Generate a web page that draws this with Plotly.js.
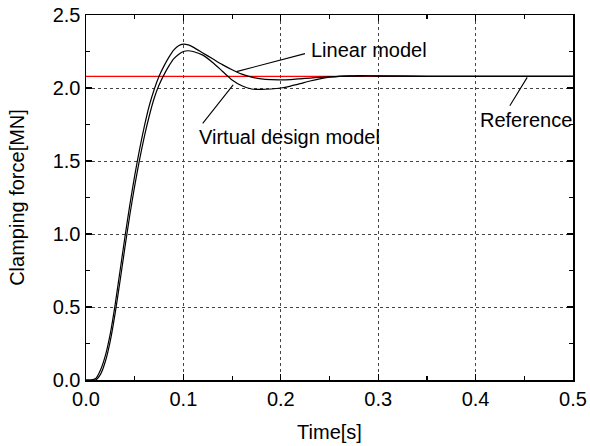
<!DOCTYPE html>
<html>
<head>
<meta charset="utf-8">
<script src="https://cdn.plot.ly/plotly-3.0.1.min.js"></script>
<style>html,body{margin:0;padding:0;background:#fff;}#chart{width:590px;height:446px;}</style>
</head>
<body>
<div id="chart"></div>
<script>
// Time axis (s)
var timeLinear = [0, 0.005, 0.010, 0.015, 0.020, 0.025, 0.030, 0.035, 0.040, 0.045, 0.050, 0.055, 0.060, 0.065, 0.070, 0.075, 0.080, 0.085, 0.090, 0.095, 0.100, 0.105, 0.110, 0.120, 0.130, 0.140, 0.150, 0.160, 0.170, 0.180, 0.190, 0.200, 0.210, 0.220, 0.230, 0.240, 0.250, 0.260, 0.280, 0.300, 0.350, 0.400, 0.450, 0.500];
var forceLinear = [0, 0, 0.01, 0.07, 0.17, 0.32, 0.52, 0.75, 0.98, 1.20, 1.40, 1.58, 1.74, 1.88, 1.99, 2.08, 2.15, 2.21, 2.26, 2.29, 2.30, 2.295, 2.28, 2.24, 2.20, 2.16, 2.125, 2.095, 2.075, 2.062, 2.057, 2.056, 2.058, 2.063, 2.068, 2.073, 2.077, 2.080, 2.082, 2.082, 2.080, 2.080, 2.080, 2.080];

var timeVirtual = [0, 0.005, 0.010, 0.015, 0.020, 0.025, 0.030, 0.035, 0.040, 0.045, 0.050, 0.055, 0.060, 0.065, 0.070, 0.075, 0.080, 0.085, 0.090, 0.095, 0.100, 0.105, 0.110, 0.120, 0.130, 0.140, 0.150, 0.160, 0.170, 0.180, 0.190, 0.200, 0.210, 0.220, 0.230, 0.240, 0.250, 0.260, 0.270, 0.280, 0.300, 0.350, 0.400, 0.450, 0.500];
var forceVirtual = [0, 0, 0, 0.04, 0.13, 0.27, 0.46, 0.68, 0.91, 1.13, 1.33, 1.51, 1.67, 1.81, 1.93, 2.02, 2.09, 2.15, 2.20, 2.23, 2.25, 2.255, 2.25, 2.225, 2.175, 2.115, 2.055, 2.015, 1.993, 1.990, 1.993, 2.000, 2.013, 2.030, 2.048, 2.063, 2.074, 2.080, 2.083, 2.085, 2.083, 2.080, 2.080, 2.080, 2.080];

var timeReference = [0, 0.5];
var forceReference = [2.08, 2.08];

// Annotation labels
var labelNames = ["Linear model", "Virtual design model", "Reference"];
var labelTextX = [0.2285, 0.1135, 0.4023];
var labelTextY = [2.26, 1.665, 1.78];
var pointerTail = [[0.2264, 2.238], [0.1186, 1.747], [0.4342, 1.868]];
var pointerHead = [[0.1545, 2.112], [0.1511, 2.021], [0.4530, 2.073]];

var xTicks = [0, 0.1, 0.2, 0.3, 0.4, 0.5];
var yTicks = [0, 0.5, 1.0, 1.5, 2.0, 2.5];

var font = {family: "Liberation Sans, Arial, sans-serif", size: 20, color: "#000"};

var traces = [
  {x: timeReference, y: forceReference, mode: "lines", line: {color: "#ff0000", width: 1.2}, showlegend: false, hoverinfo: "skip"},
  {x: timeVirtual, y: forceVirtual, mode: "lines", line: {color: "#000", width: 1.2, shape: "spline", smoothing: 0.6}, showlegend: false},
  {x: timeLinear, y: forceLinear, mode: "lines", line: {color: "#000", width: 1.2, shape: "spline", smoothing: 0.6}, showlegend: false}
];

var annotations = [];
for (var i = 0; i < labelNames.length; i++) {
  annotations.push({
    x: pointerHead[i][0], y: pointerHead[i][1], xref: "x", yref: "y",
    ax: pointerTail[i][0], ay: pointerTail[i][1], axref: "x", ayref: "y",
    showarrow: true, arrowhead: 0, arrowwidth: 1.1, arrowcolor: "#000", text: ""
  });
  annotations.push({
    x: labelTextX[i], y: labelTextY[i], xref: "x", yref: "y",
    text: labelNames[i], showarrow: false, xanchor: "left", yanchor: "middle",
    font: font
  });
}

var axisCommon = {
  showline: true, linecolor: "#000", linewidth: 1.5, mirror: "allticks",
  ticks: "inside", ticklen: 6, tickwidth: 1.3, tickcolor: "#000",
  showgrid: true, gridcolor: "#444", griddash: "dot", gridwidth: 1,
  zeroline: false, tickfont: font, tickformat: ".1f", fixedrange: true,
  minor: {ticks: "inside", ticklen: 4, tickwidth: 1.2, tickcolor: "#000", showgrid: false}
};

var layout = {
  width: 590, height: 446,
  margin: {l: 86, r: 17, t: 15, b: 66},
  paper_bgcolor: "#fff", plot_bgcolor: "#fff",
  font: font,
  xaxis: Object.assign({}, axisCommon, {
    range: [0, 0.5], tickvals: xTicks, minor: Object.assign({}, axisCommon.minor, {dtick: 0.05, tick0: 0}),
    title: {text: "Time[s]", font: font, standoff: 16}
  }),
  yaxis: Object.assign({}, axisCommon, {
    range: [0, 2.5], tickvals: yTicks, minor: Object.assign({}, axisCommon.minor, {dtick: 0.25, tick0: 0}),
    title: {text: "Clamping force[MN]", font: font, standoff: 22}
  }),
  annotations: annotations
};

Plotly.newPlot("chart", traces, layout, {displayModeBar: false, staticPlot: true});
</script>
</body>
</html>
